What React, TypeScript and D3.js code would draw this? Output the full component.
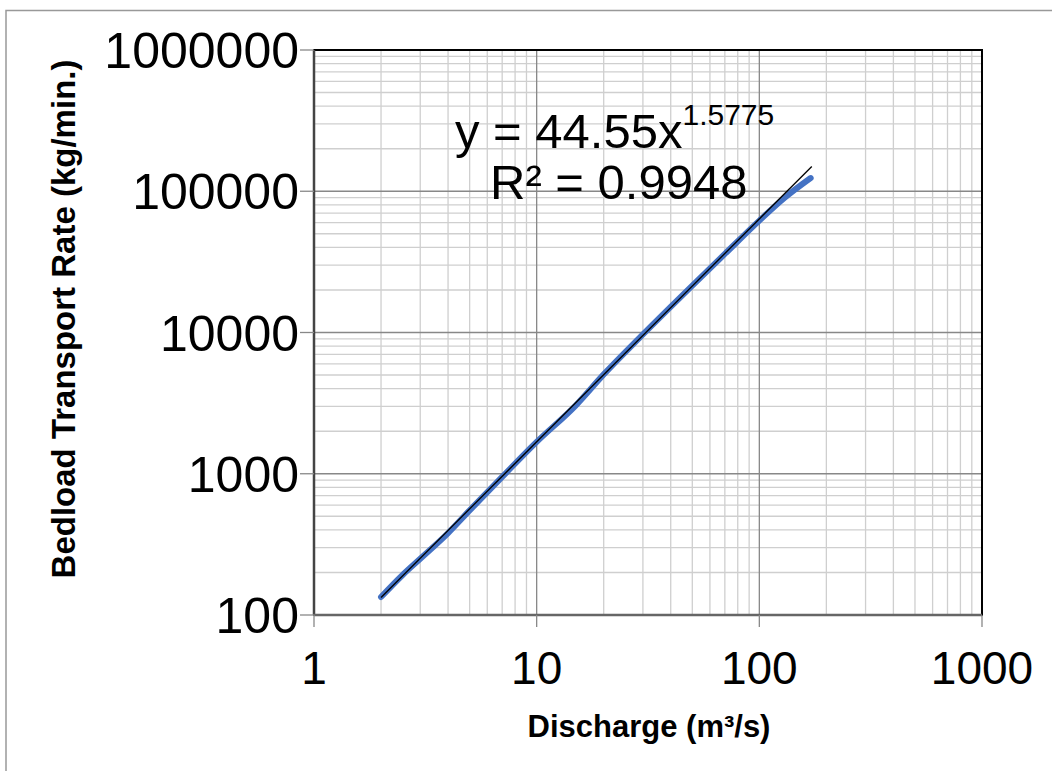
import React from "react";
import * as d3 from "d3";

// ---- data ----
const xTickValues = [1, 10, 100, 1000];
const xTickLabels = ["1", "10", "100", "1000"];
const yTickValues = [100, 1000, 10000, 100000, 1000000];
const yTickLabels = ["100", "1000", "10000", "100000", "1000000"];

const dischargeValues = [2, 2.5, 3, 4, 5, 7, 10, 15, 20, 30, 50, 70, 100, 130, 170];
const bedloadValues = [134, 192, 250, 380, 550, 950, 1680, 3050, 5050, 9700, 21500, 36000, 62000, 90000, 124000];

const trendCoefA = 44.55;
const trendExpB = 1.5775;
const trendRangeX = [2, 172];

const equationMain = "y = 44.55x";
const equationSup = "1.5775";
const r2Text = "R² = 0.9948";
const xTitle = "Discharge (m³/s)";
const yTitle = "Bedload Transport Rate (kg/min.)";

// ---- layout ----
const W = 1052;
const H = 771;
const M = { left: 314, right: 982, top: 50, bottom: 615 };
const FONT = "Arial, 'Liberation Sans', sans-serif";

export default function App() {
  const x = d3.scaleLog().domain([1, 1000]).range([M.left, M.right]);
  const y = d3.scaleLog().domain([100, 1000000]).range([M.bottom, M.top]);

  const minorX: number[] = [];
  [1, 10, 100].forEach((d) => {
    for (let k = 2; k <= 9; k++) minorX.push(d * k);
  });
  const minorY: number[] = [];
  [100, 1000, 10000, 100000].forEach((d) => {
    for (let k = 2; k <= 9; k++) minorY.push(d * k);
  });

  const pts = dischargeValues.map((q, i) => [q, bedloadValues[i]] as [number, number]);
  const line = d3
    .line<[number, number]>()
    .x((d) => x(d[0]))
    .y((d) => y(d[1]))
    .curve(d3.curveMonotoneX);

  const trendPts = trendRangeX.map((q) => [q, trendCoefA * Math.pow(q, trendExpB)] as [number, number]);
  const trendLine = d3
    .line<[number, number]>()
    .x((d) => x(d[0]))
    .y((d) => y(d[1]));

  return (
    <svg
      width={W}
      height={H}
      style={{ position: "absolute", left: 0, top: 0, background: "#fff" }}
      fontFamily={FONT}
    >
      {/* outer frame */}
      <path d={`M6,${H} L6,10.5 L${W},10.5`} fill="none" stroke="#999" strokeWidth={1.5} />

      {/* minor grid */}
      {minorX.map((v) => (
        <line key={"mx" + v} x1={x(v)} x2={x(v)} y1={M.top} y2={M.bottom} stroke="#cfcfcf" strokeWidth={1.3} />
      ))}
      {minorY.map((v) => (
        <line key={"my" + v} x1={M.left} x2={M.right} y1={y(v)} y2={y(v)} stroke="#cfcfcf" strokeWidth={1.3} />
      ))}
      {/* major grid */}
      {xTickValues.map((v) => (
        <line key={"Mx" + v} x1={x(v)} x2={x(v)} y1={M.top} y2={M.bottom} stroke="#888" strokeWidth={1.3} />
      ))}
      {yTickValues.map((v) => (
        <line key={"My" + v} x1={M.left} x2={M.right} y1={y(v)} y2={y(v)} stroke="#888" strokeWidth={1.3} />
      ))}

      {/* plot border */}
      <rect x={M.left} y={M.top} width={M.right - M.left} height={M.bottom - M.top} fill="none" stroke="#000" strokeWidth={2} />
      <line x1={M.left} x2={M.left} y1={M.top} y2={M.bottom} stroke="#444" strokeWidth={2.5} />
      <line x1={M.left} x2={M.right} y1={M.bottom} y2={M.bottom} stroke="#666" strokeWidth={2.5} />

      {/* ticks */}
      {xTickValues.map((v) => (
        <line key={"tx" + v} x1={x(v)} x2={x(v)} y1={M.bottom} y2={M.bottom + 12} stroke="#888" strokeWidth={1.3} />
      ))}
      {yTickValues.map((v) => (
        <line key={"ty" + v} x1={M.left - 14} x2={M.left} y1={y(v)} y2={y(v)} stroke="#888" strokeWidth={1.3} />
      ))}

      {/* tick labels */}
      {xTickValues.map((v, i) => (
        <text key={"lx" + v} x={x(v)} y={684} textAnchor="middle" fontSize={46} fill="#000">
          {xTickLabels[i]}
        </text>
      ))}
      {yTickValues.map((v, i) => (
        <text key={"ly" + v} x={299} y={y(v)} dy="0.36em" textAnchor="end" fontSize={50} fill="#000">
          {yTickLabels[i]}
        </text>
      ))}

      {/* series */}
      <path d={line(pts) || ""} fill="none" stroke="#4472C4" strokeWidth={6} strokeLinecap="round" strokeLinejoin="round" />
      <path d={trendLine(trendPts) || ""} fill="none" stroke="#000" strokeWidth={1.3} />

      {/* equation */}
      <text x={455} y={148} fontSize={49} fill="#000">
        {equationMain}
        <tspan fontSize={30} dy={-23}>{equationSup}</tspan>
      </text>
      <text x={490} y={199} fontSize={49} fill="#000">
        {r2Text}
      </text>

      {/* axis titles */}
      <text x={649} y={737} textAnchor="middle" fontSize={31} fontWeight="bold" fill="#000">
        {xTitle}
      </text>
      <text
        transform={`translate(75, 319) rotate(-90)`}
        textAnchor="middle"
        fontSize={33}
        fontWeight="bold"
        fill="#000"
      >
        {yTitle}
      </text>
    </svg>
  );
}
